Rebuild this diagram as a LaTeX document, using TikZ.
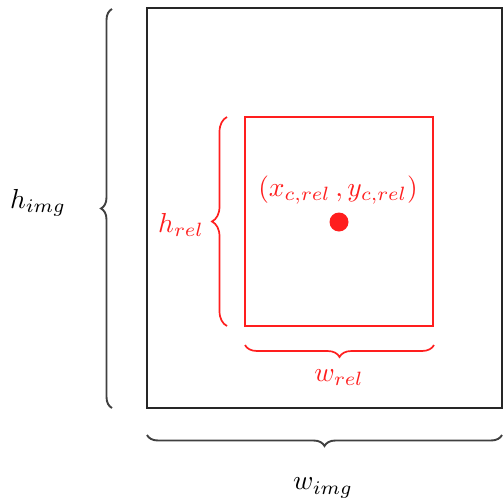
\documentclass[tikz,border=0pt]{standalone}
\usetikzlibrary{decorations.pathreplacing}
\definecolor{bbred}{RGB}{255,30,30}
\tikzset{
  lbl/.style={inner sep=0pt, scale=2.75},
  bracedec/.style={decorate, decoration={brace, amplitude=#1}},
}
\begin{document}
\begin{tikzpicture}[x=1pt,y=-1pt]
\useasboundingbox (0,0) rectangle (504,501);
% image frame
\draw[line width=2pt, black!85] (147,8) rectangle (502,408);
% relative box
\draw[line width=2.4pt, bbred] (245,117) rectangle (433,326);
\fill[bbred] (339,222) circle (9.5);
% braces
\draw[black!75, line width=1.9pt, bracedec=11] (112,408) -- (112,9);
\draw[black!75, line width=1.9pt, bracedec=11] (502,435) -- (147,435);
\draw[bbred, line width=1.7pt, bracedec=15] (227,326) -- (227,117);
\draw[bbred, line width=1.7pt, bracedec=12] (434,345) -- (245,345);
% labels
\node[lbl] (himg) at (38,203) {$h_{img}$};
\node[lbl] (wimg) at (323,488) {$w_{img}$};
\node[lbl, bbred] (hrel) at (181,225) {$h_{rel}$};
\node[lbl, bbred] (wrel) at (339,378) {$w_{rel}$};
\node[lbl, bbred] (center) at (338,190) {$(x_{c,rel}\,,y_{c,rel})$};
\end{tikzpicture}
\end{document}
